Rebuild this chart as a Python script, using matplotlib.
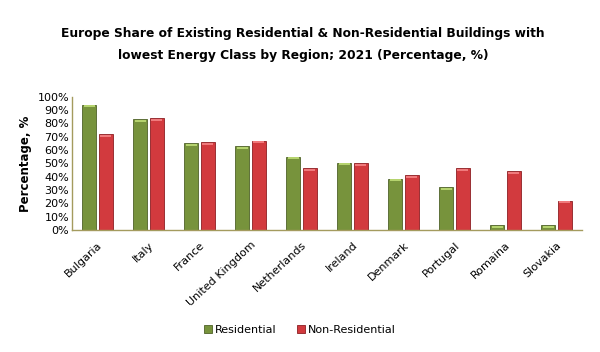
import numpy as np
import matplotlib.pyplot as plt
from matplotlib.ticker import PercentFormatter
from matplotlib.transforms import ScaledTranslation

regions = ["Bulgaria", "Italy", "France", "United Kingdom", "Netherlands",
           "Ireland", "Denmark", "Portugal", "Romaina", "Slovakia"]
residential = [94, 83, 65, 63, 55, 50.5, 38.5, 32, 3.5, 3.5]
non_residential = [72, 84, 66, 67, 46.5, 50, 41, 46.5, 44, 22]

green = "#77933c"
red = "#d23a3e"

fig = plt.figure(figsize=(6, 3.52), dpi=100)
ax = fig.add_axes([0.12, 0.3466, 0.85, 0.3787])

x = np.arange(len(regions))
w = 0.27
ax.bar(x - 0.16, residential, w, color=green, edgecolor="#4f6228", linewidth=0.6, label="Residential")
ax.bar(x + 0.16, non_residential, w, color=red, edgecolor="#8c1e22", linewidth=0.6, label="Non-Residential")
# light cap on top of each bar
cap = 1.6
ax.bar(x - 0.16, cap, w * 0.8, bottom=np.array(residential) - cap - 0.4, color="#b5d36e", linewidth=0)
ax.bar(x + 0.16, cap, w * 0.8, bottom=np.array(non_residential) - cap - 0.4, color="#f07a7c", linewidth=0)

ax.set_xlim(-0.5, 9.5)
ax.set_ylim(0, 100)
ax.set_yticks(np.arange(0, 101, 10))
ax.yaxis.set_major_formatter(PercentFormatter(decimals=0))
ax.set_xticks(x)
ax.set_xticklabels(regions, rotation=43, ha="right", rotation_mode="anchor", fontsize=8)
shift = ScaledTranslation(6 / 100, 0, fig.dpi_scale_trans)
for lbl in ax.get_xticklabels():
    lbl.set_transform(lbl.get_transform() + shift)
ax.tick_params(axis="y", labelsize=8, length=0, pad=2)
ax.tick_params(axis="x", length=0, pad=7)

for s in ["top", "right"]:
    ax.spines[s].set_visible(False)
for s in ["left", "bottom"]:
    ax.spines[s].set_color("#a49b5e")
    ax.spines[s].set_linewidth(1)

ax.set_ylabel("Percentage, %", fontsize=8.5, fontweight="bold", labelpad=4)

fig.text(0.505, 0.905, "Europe Share of Existing Residential & Non-Residential Buildings with",
         ha="center", va="center", fontsize=8.8, fontweight="bold")
fig.text(0.505, 0.843, "lowest Energy Class by Region; 2021 (Percentage, %)",
         ha="center", va="center", fontsize=8.8, fontweight="bold")

handles, labels = ax.get_legend_handles_labels()
fig.legend(handles[:2], labels[:2], loc="center", bbox_to_anchor=(0.5, 0.063), ncol=2, frameon=False,
           fontsize=8, handlelength=0.7, handleheight=0.7, handletextpad=0.3,
           columnspacing=1.8)

fig.savefig("out.png", dpi=100)
